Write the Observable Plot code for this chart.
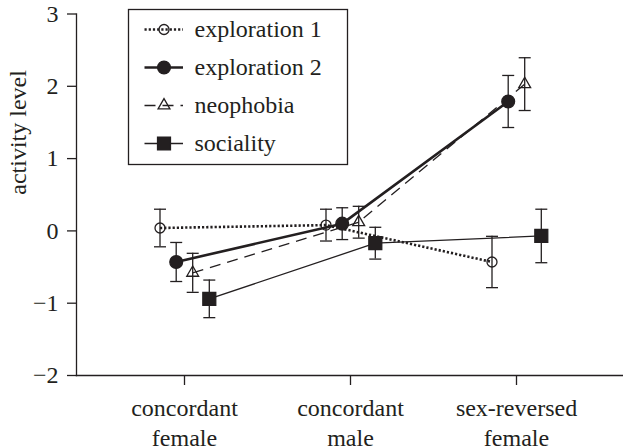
<!DOCTYPE html>
<html>
<head>
<meta charset="utf-8">
<script src="https://cdn.jsdelivr.net/npm/d3@7"></script>
<script src="https://cdn.jsdelivr.net/npm/@observablehq/plot@0.6"></script>
<style>
  html, body { margin: 0; padding: 0; background: #fff; }
  #wrap { position: relative; width: 623px; height: 448px; overflow: hidden; }
  #legend { position: absolute; left: 126.5px; top: 7.5px; }
  #wrap svg, #wrap svg text { font-family: "Liberation Serif", "Times New Roman", serif !important; font-size: 24px !important; }
</style>
</head>
<body>
<div id="wrap"><div id="chart"></div><div id="legend"></div></div>
<script>
// ---- data ----
const groups = ["concordant female", "concordant male", "sex-reversed female"];
const seriesNames = ["exploration 1", "exploration 2", "neophobia", "sociality"];
const exploration1 = [0.04, 0.08, -0.43];
const exploration1Err = [0.26, 0.22, 0.355];
const exploration2 = [-0.43, 0.10, 1.79];
const exploration2Err = [0.27, 0.22, 0.36];
const neophobia = [-0.58, 0.12, 2.03];
const neophobiaErr = [0.27, 0.22, 0.365];
const sociality = [-0.94, -0.17, -0.07];
const socialityErr = [0.26, 0.22, 0.37];
const yTicks = [-2, -1, 0, 1, 2, 3];
const yLabel = "activity level";

// ---- styles ----
const ink = "#231f20";
const styles = {
  "exploration 1": {values: exploration1, err: exploration1Err, dx: -24.5, strokeWidth: 2.6, dash: "2.2,2", symbol: "circle", r: 5, fill: "none"},
  "exploration 2": {values: exploration2, err: exploration2Err, dx: -8.3, strokeWidth: 2.6, dash: null, symbol: "circle", r: 6.4, fill: ink},
  "neophobia":     {values: neophobia, err: neophobiaErr, dx: 8.2, strokeWidth: 1.3, dash: "11,7", symbol: "triangle", r: 4.4, fill: "none"},
  "sociality":     {values: sociality, err: socialityErr, dx: 24.8, strokeWidth: 1.3, dash: null, symbol: "square", r: 7.3, fill: ink}
};
// horizontal cap symbol for error bars
const capSymbol = {draw(context) { context.moveTo(-6, 0); context.lineTo(6, 0); }};

const marks = [];
for (const name of seriesNames) {
  const s = styles[name];
  const rows = groups.map((g, i) => ({group: g, value: s.values[i], err: s.err[i]}));
  marks.push(Plot.line(rows, {x: "group", y: "value", dx: s.dx, stroke: ink, strokeWidth: s.strokeWidth, strokeDasharray: s.dash, strokeLinecap: "butt"}));
}
for (const name of seriesNames) {
  const s = styles[name];
  const rows = groups.map((g, i) => ({group: g, value: s.values[i], err: s.err[i]}));
  marks.push(Plot.ruleX(rows, {x: "group", y1: d => d.value - d.err, y2: d => d.value + d.err, dx: s.dx, stroke: ink, strokeWidth: 1.3}));
  marks.push(Plot.dot(rows, {x: "group", y: d => d.value - d.err, dx: s.dx, symbol: capSymbol, fill: "none", stroke: ink, strokeWidth: 1.3}));
  marks.push(Plot.dot(rows, {x: "group", y: d => d.value + d.err, dx: s.dx, symbol: capSymbol, fill: "none", stroke: ink, strokeWidth: 1.3}));
  marks.push(Plot.dot(rows, {x: "group", y: "value", dx: s.dx, symbol: s.symbol, r: s.r, fill: s.fill, stroke: ink, strokeWidth: 1.3}));
}

const chart = Plot.plot({
  width: 623,
  height: 448,
  marginLeft: 76,
  marginRight: 0,
  marginTop: 13.5,
  marginBottom: 73,
  style: {background: "#fff", color: ink},
  x: {type: "point", domain: groups, padding: 0.642},
  y: {domain: [-2, 3]},
  marks: [
    Plot.axisY({ticks: yTicks, tickSize: 9, tickPadding: 9, strokeWidth: 1.3, label: null, tickFormat: d => d3.format("d")(d).replace("-", "\u2212")}),
    Plot.axisX({tickSize: 10, tickPadding: 9, lineHeight: 1.25, strokeWidth: 1.3, label: null, tickFormat: d => d.replace(" ", "\n")}),
    Plot.frame({anchor: "left", stroke: ink, strokeWidth: 1.3}),
    Plot.frame({anchor: "bottom", stroke: ink, strokeWidth: 1.3}),
    Plot.text([yLabel], {frameAnchor: "left", rotate: -90, dx: -58, fill: ink}),
    ...marks
  ]
});
document.getElementById("chart").appendChild(chart);

// ---- legend ----
const legendMarks = [Plot.frame({stroke: ink, strokeWidth: 1.3, fill: "#fff"})];
for (const name of seriesNames) {
  const s = styles[name];
  legendMarks.push(Plot.ruleY([name], {y: d => d, x1: 16.5, x2: 55, stroke: ink, strokeWidth: s.strokeWidth, strokeDasharray: s.dash}));
  legendMarks.push(Plot.dot([name], {y: d => d, x: 35.5, symbol: s.symbol, r: s.r, fill: s.fill, stroke: ink, strokeWidth: 1.3}));
}
legendMarks.push(Plot.text(seriesNames, {y: d => d, x: 66, textAnchor: "start", fill: ink}));

const legend = Plot.plot({
  width: 221,
  height: 157,
  margin: 1,
  style: {background: "transparent", color: ink, overflow: "visible"},
  x: {type: "linear", domain: [0, 219], axis: null},
  y: {type: "point", domain: seriesNames, range: [20.5, 135.5], padding: 0, axis: null},
  marks: legendMarks
});
document.getElementById("legend").appendChild(legend);
</script>
</body>
</html>
